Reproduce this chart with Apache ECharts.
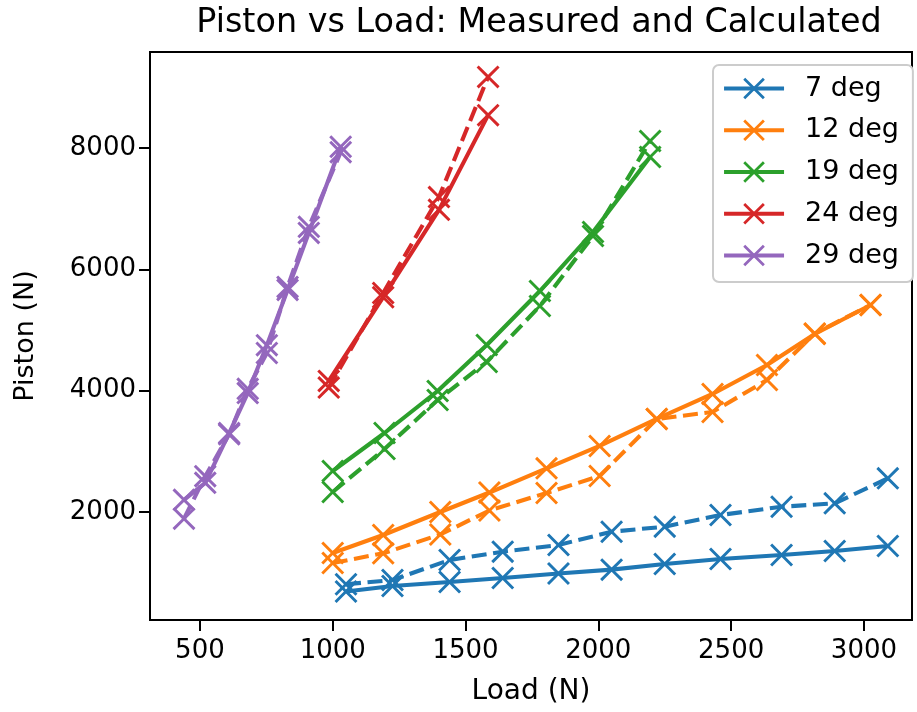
<!DOCTYPE html>
<html>
<head>
<meta charset="utf-8">
<script src="https://cdn.jsdelivr.net/npm/echarts@6/dist/echarts.min.js"></script>
<style>
  html, body { margin: 0; padding: 0; background: #fff; }
  #chart { width: 917px; height: 712px; }
</style>
</head>
<body>
<div id="chart"></div>
<script>
// Angle settings and their colours
const angles = ['7 deg', '12 deg', '19 deg', '24 deg', '29 deg'];
const colors = ['#1f77b4', '#ff7f0e', '#2ca02c', '#d62728', '#9467bd'];

// Load (N) for each angle
const load7  = [1050, 1225, 1440, 1640, 1850, 2050, 2250, 2460, 2690, 2890, 3090];
const load12 = [1000, 1190, 1405, 1590, 1805, 2005, 2220, 2430, 2635, 2815, 3025];
const load19 = [1000, 1195, 1395, 1580, 1780, 1980, 2195];
const load24 = [985, 1190, 1400, 1585];
const load29 = [440, 520, 610, 680, 752, 830, 910, 1030];

// Calculated piston force (N) - solid lines
const calc7  = [690, 780, 846, 912, 987, 1050, 1143, 1225, 1291, 1357, 1440];
const calc12 = [1324, 1621, 2000, 2321, 2720, 3088, 3533, 3945, 4423, 4933, 5411];
const calc19 = [2676, 3302, 3994, 4752, 5642, 6614, 7850];
const calc24 = [4160, 5540, 6980, 8540];
const calc29 = [2200, 2480, 3300, 3960, 4750, 5660, 6600, 8020];

// Measured piston force (N) - dashed lines
const meas7  = [810, 879, 1209, 1346, 1456, 1675, 1758, 1950, 2087, 2143, 2555];
const meas12 = [1160, 1319, 1629, 2025, 2313, 2593, 3533, 3648, 4175, 4942, 5411];
const meas19 = [2330, 3038, 3846, 4472, 5395, 6548, 8114];
const meas24 = [4050, 5610, 7190, 9170];
const meas29 = [1890, 2590, 3280, 4030, 4620, 5710, 6700, 7930];

// Tick labels
const xTicks = [500, 1000, 1500, 2000, 2500, 3000];
const yTicks = [2000, 4000, 6000, 8000];

const loads = [load7, load12, load19, load24, load29];
const calcs = [calc7, calc12, calc19, calc24, calc29];
const meass = [meas7, meas12, meas19, meas24, meas29];

// 'x' marker as a filled polygon
const crossPath = 'path://M0,9L9,0L50,41L91,0L100,9L59,50L100,91L91,100L50,59L9,100L0,91L41,50Z';
const FONT = 'DejaVu Sans';
const LW = 4.1;

const series = [];
angles.forEach((name, k) => {
  const pts = (vals) => loads[k].map((x, i) => [x, vals[i]]);
  series.push({
    name: name,
    type: 'line',
    data: pts(calcs[k]),
    symbol: crossPath,
    symbolSize: 23,
    showAllSymbol: true,
    itemStyle: { color: colors[k] },
    lineStyle: { color: colors[k], width: LW, type: 'solid' },
    emphasis: { disabled: true },
    animation: false
  });
  series.push({
    name: name + ' measured',
    type: 'line',
    data: pts(meass[k]),
    symbol: crossPath,
    symbolSize: 23,
    showAllSymbol: true,
    itemStyle: { color: colors[k] },
    lineStyle: { color: colors[k], width: LW, type: [15, 6.6] },
    emphasis: { disabled: true },
    animation: false
  });
});

const plain = (v) => String(v);

const chart = echarts.init(document.getElementById('chart'), null, { renderer: 'canvas' });
chart.setOption({
  backgroundColor: '#fff',
  animation: false,
  textStyle: { fontFamily: FONT },
  title: {
    text: 'Piston vs Load: Measured and Calculated',
    left: 534,
    top: 2,
    textAlign: 'center',
    textStyle: { fontFamily: FONT, fontSize: 33.4, fontWeight: 'normal', color: '#000' }
  },
  grid: {
    left: 150, right: 5, top: 52, bottom: 92,
    show: true, borderColor: '#000', borderWidth: 2, backgroundColor: 'transparent'
  },
  legend: {
    data: angles,
    orient: 'vertical',
    left: 713,
    top: 65,
    padding: [10, 14, 13, 9],
    itemWidth: 60,
    itemHeight: 27,
    itemGap: 14.75,
    backgroundColor: '#fff',
    borderColor: '#cccccc',
    borderWidth: 2,
    borderRadius: 6,
    lineStyle: { width: LW },
    textStyle: { fontFamily: FONT, fontSize: 27, lineHeight: 27, color: '#000', padding: [0, 0, 0, 16] }
  },
  xAxis: {
    type: 'value',
    min: 312,
    max: 3181,
    name: 'Load (N)',
    nameLocation: 'middle',
    nameGap: 58,
    nameTextStyle: { fontFamily: FONT, fontSize: 28, color: '#000' },
    axisLine: { show: true, lineStyle: { color: '#000', width: 2 } },
    axisTick: { show: true, inside: false, length: 11, lineStyle: { color: '#000', width: 2 }, customValues: xTicks },
    axisLabel: { fontFamily: FONT, fontSize: 26, color: '#000', margin: 18, formatter: plain, customValues: xTicks },
    splitLine: { show: false }
  },
  yAxis: {
    type: 'value',
    min: 220,
    max: 9581,
    name: 'Piston (N)',
    nameLocation: 'middle',
    nameRotate: 90,
    nameGap: 111,
    nameTextStyle: { fontFamily: FONT, fontSize: 27, color: '#000' },
    axisLine: { show: true, lineStyle: { color: '#000', width: 2 } },
    axisTick: { show: true, inside: false, length: 11, lineStyle: { color: '#000', width: 2 }, customValues: yTicks },
    axisLabel: { fontFamily: FONT, fontSize: 26, color: '#000', margin: 14, formatter: plain, customValues: yTicks },
    splitLine: { show: false }
  },
  series: series
});
</script>
</body>
</html>
